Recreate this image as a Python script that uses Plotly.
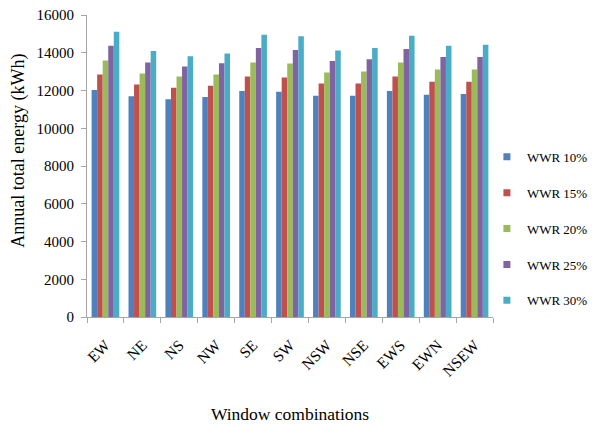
import plotly.graph_objects as go

# Window orientation combinations on the category axis
combinations = ["EW", "NE", "NS", "NW", "SE", "SW", "NSW", "NSE", "EWS", "EWN", "NSEW"]

# Annual total energy (kWh) per window-to-wall ratio
wwr_10 = [12020, 11700, 11540, 11650, 11980, 11930, 11720, 11720, 11980, 11770, 11820]
wwr_15 = [12850, 12320, 12140, 12250, 12740, 12690, 12370, 12370, 12740, 12460, 12460]
wwr_20 = [13590, 12900, 12740, 12850, 13490, 13430, 12960, 13010, 13490, 13110, 13110]
wwr_25 = [14370, 13490, 13270, 13440, 14250, 14140, 13560, 13660, 14200, 13770, 13770]
wwr_30 = [15115, 14090, 13820, 13960, 14950, 14870, 14120, 14250, 14900, 14370, 14420]

series_names = ["WWR 10%", "WWR 15%", "WWR 20%", "WWR 25%", "WWR 30%"]
series_values = [wwr_10, wwr_15, wwr_20, wwr_25, wwr_30]
colors = ["#4F81BD", "#C0504D", "#9BBB59", "#8064A2", "#4BACC6"]

y_ticks = [0, 2000, 4000, 6000, 8000, 10000, 12000, 14000, 16000]

serif = "Liberation Serif, Times New Roman, serif"

fig = go.Figure()
for name, vals, col in zip(series_names, series_values, colors):
    fig.add_trace(go.Bar(
        x=combinations, y=vals, name=name, marker_color=col,
        marker_line_width=0, showlegend=False,
    ))
# Small square legend keys
for name, col in zip(series_names, colors):
    fig.add_trace(go.Scatter(
        x=[None], y=[None], mode="markers", name=name, legendgroup=name,
        marker=dict(symbol="square", size=7, color=col),
    ))

fig.update_layout(
    width=592, height=424,
    margin=dict(l=87, r=99, t=15, b=107, autoexpand=False),
    paper_bgcolor="white", plot_bgcolor="white",
    barmode="group", bargap=0.25, bargroupgap=0,
    font=dict(family=serif, size=14, color="#000000"),
    legend=dict(
        x=0.985, y=0.292, xanchor="left", yanchor="middle",
        traceorder="grouped", tracegroupgap=16,
        font=dict(family=serif, size=13),
        itemwidth=30, bgcolor="rgba(0,0,0,0)",
    ),
    showlegend=True,
    annotations=[dict(
        text="Annual total energy (kWh)", textangle=-90,
        xref="paper", yref="paper", x=-0.168, y=0.55,
        xanchor="center", yanchor="middle", showarrow=False,
        font=dict(family=serif, size=18),
    )],
)
fig.update_xaxes(
    type="category", showline=True, linecolor="#A6A6A6", linewidth=1,
    ticks="outside", tickson="boundaries", ticklen=5, tickcolor="#A6A6A6",
    tickangle=-45, tickfont=dict(family=serif, size=15.5), ticklabelstandoff=12,
    showgrid=False,
    title=dict(text="Window combinations", font=dict(family=serif, size=17.5), standoff=30),
)
fig.update_yaxes(
    range=[0, 16000], tickvals=y_ticks, ticktext=[str(v) for v in y_ticks],
    showline=True, linecolor="#A6A6A6",
    linewidth=1, ticks="outside", ticklen=5, tickcolor="#A6A6A6",
    tickfont=dict(family=serif, size=15), ticklabelstandoff=4,
    showgrid=False, zeroline=False,
)

fig.write_html("out.html")
